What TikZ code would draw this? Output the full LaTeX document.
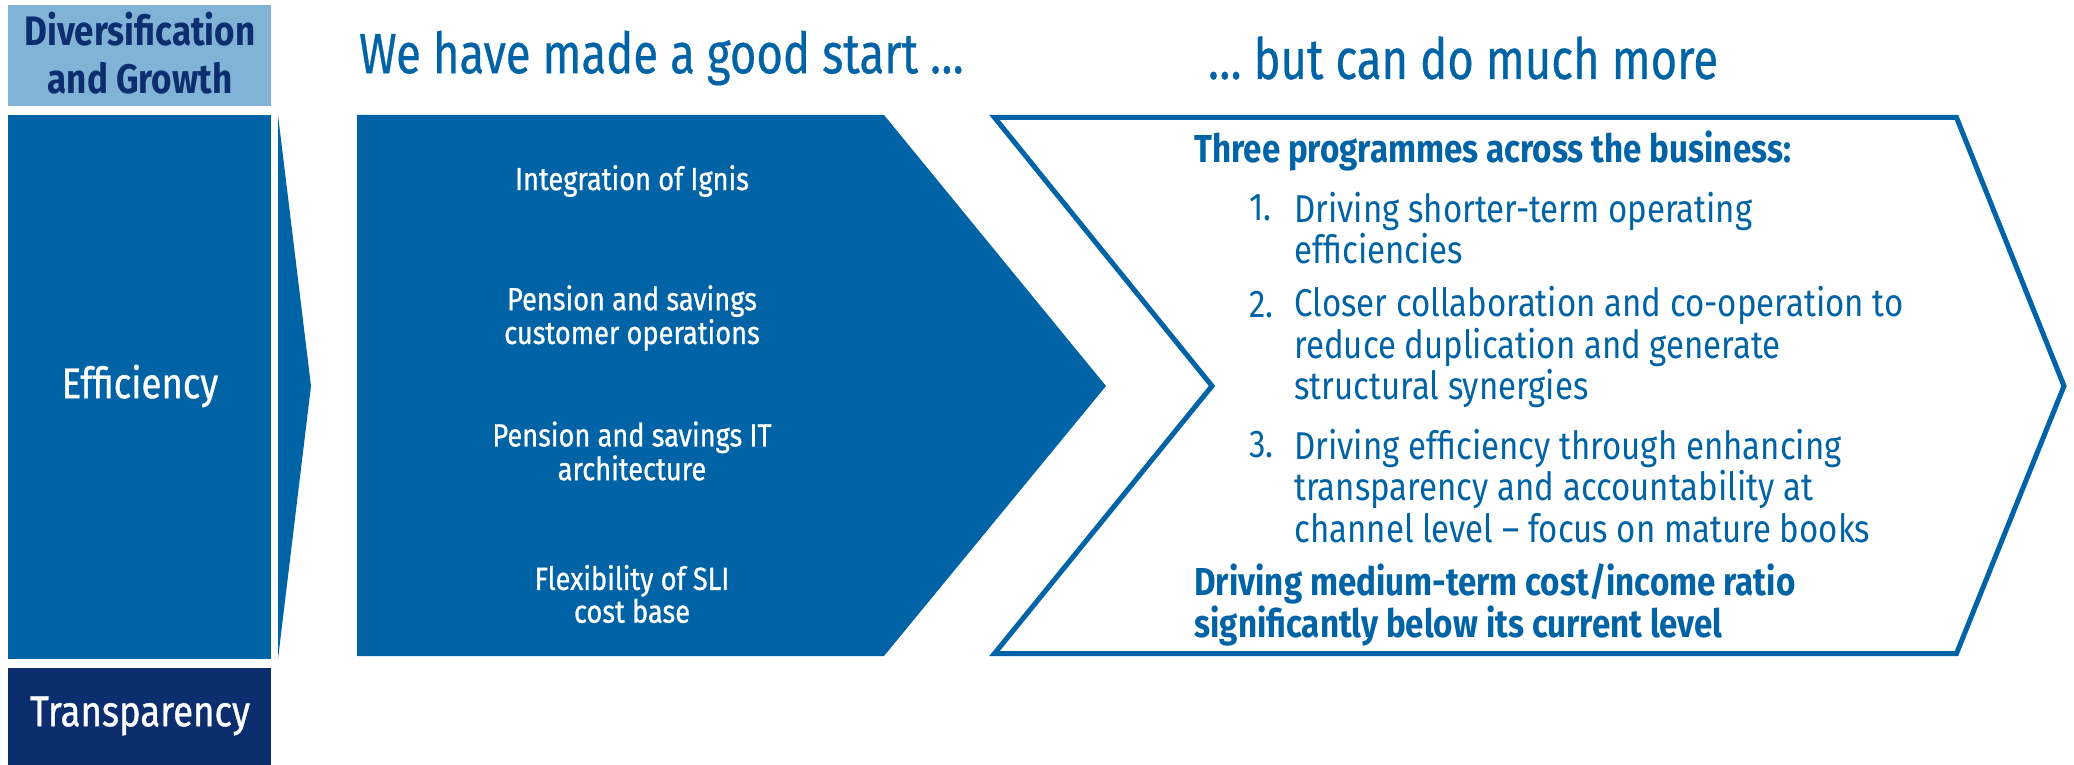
\documentclass[tikz,border=0pt]{standalone}
\usepackage{fontspec}
\setmainfont{Fira Sans}[FakeStretch=0.85]
\newfontfamily\medfont{Fira Sans}[FakeStretch=0.85, FakeBold=0.8]
\newfontfamily\headfont{Fira Sans}[FakeStretch=0.8, FakeBold=0.5]
\usetikzlibrary{positioning}

\definecolor{slblue}{HTML}{0063A5}
\definecolor{slnavy}{HTML}{0C2D6E}
\definecolor{sllight}{HTML}{80B3D5}

\begin{document}
\begin{tikzpicture}[x=0.5pt, y=-0.5pt, line join=miter,
    pillar/.style={text=white, font=\medfont\fontsize{21.5}{24}\selectfont, align=center},
    heading/.style={text=slblue, font=\headfont\fontsize{28.4}{32}\selectfont, anchor=west},
    done/.style={text=white, font=\medfont\fontsize{16}{15.2}\selectfont, align=center},
    planhead/.style={text=slblue, font=\bfseries\fontsize{19.5}{20.7}\selectfont, align=left, anchor=west, inner xsep=0pt},
    plannum/.style={text=slblue, font=\fontsize{19.4}{20.7}\selectfont, anchor=west, inner xsep=0pt},
    plantext/.style={text=slblue, font=\fontsize{19.4}{20.7}\selectfont, align=left, anchor=west, inner xsep=0pt}]
    \useasboundingbox (0,0) rectangle (2074,765);

    % Left column
    \fill[sllight] (8,5) rectangle (271,106);
    \fill[slblue] (8,115) rectangle (271,659);
    \fill[slnavy] (8,668) rectangle (271,765);
    \fill[slblue] (278,115) -- (311,386) -- (278,659) -- cycle;
    \node[pillar, text=slnavy, font=\bfseries\fontsize{20.6}{24}\selectfont] (growth) at (140,53) {Diversification\\and Growth};
    \node[pillar] (efficiency) at (140,386) {Efficiency};
    \node[pillar] (transparency) at (140,716) {Transparency};

    % Headings
    \node[heading] (start) at (352,58) {We have made a good start …};
    \node[heading] (more) at (1201,58) {… but can do much more};

    % What has been done
    \fill[slblue] (357,115) -- (884,115) -- (1106,386) -- (884,656) -- (357,656) -- cycle;
    \node[done] (ignis) at (632,181) {Integration of Ignis};
    \node[done] (custops) at (632,318) {Pension and savings\\customer operations};
    \node[done] (itarch) at (632,451) {Pension and savings IT\\architecture};
    \node[done] (costbase) at (632,594) {Flexibility of SLI\\cost base};

    % What comes next
    \draw[slblue, line width=2.5pt] (994.5,117.5) -- (1956.5,117.5) -- (2064,386)
        -- (1956.5,653.5) -- (994.5,653.5) -- (1212,386) -- cycle;
    \node[planhead] (three) at (1194,151) {Three programmes across the business:};
    \node[plannum] (n1) at (1249,208) {1.};
    \node[plantext] (p1) at (1294,228) {Driving shorter-term operating\\efficiencies};
    \node[plannum] (n2) at (1249,305) {2.};
    \node[plantext] (p2) at (1294,347) {Closer collaboration and co-operation to\\reduce duplication and generate\\structural synergies};
    \node[plannum] (n3) at (1249,445) {3.};
    \node[plantext] (p3) at (1294,486) {Driving efficiency through enhancing\\transparency and accountability at\\channel level – focus on mature books};
    \node[planhead] (ratio) at (1194,605) {Driving medium-term cost/income ratio\\significantly below its current level};
\end{tikzpicture}
\end{document}
